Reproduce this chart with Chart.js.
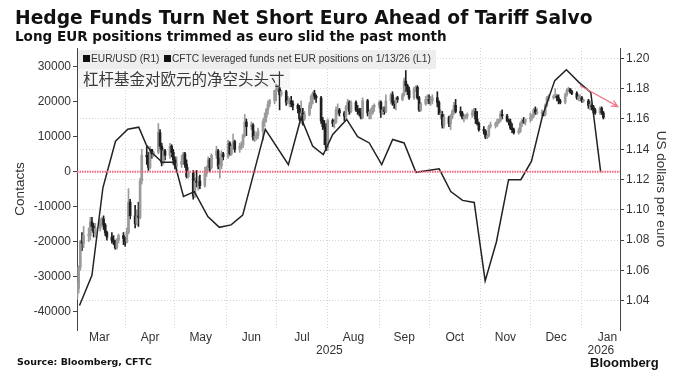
<!DOCTYPE html>
<html>
<head>
<meta charset="utf-8">
<script src="https://cdn.jsdelivr.net/npm/chart.js@4.4.1/dist/chart.umd.min.js"></script>
<style>
  html, body { margin: 0; padding: 0; background: #fff; }
  #wrap { width: 692px; height: 384px; }
</style>
</head>
<body>
<div id="wrap"><canvas id="chart" width="692" height="384"></canvas></div>
<script>
// --- data ---------------------------------------------------------------
// EUR/USD daily candles, trading days from Mon 3 Mar 2025 (open = previous close)
const fxFirstOpen = 1.042;
const fxClose = [
  1.048, 1.062, 1.079, 1.078, 1.083,  1.083, 1.092, 1.089, 1.085, 1.088,
  1.092, 1.094, 1.090, 1.085, 1.082,  1.080, 1.079, 1.075, 1.080, 1.083,
  1.081, 1.079, 1.085, 1.105, 1.096,  1.091, 1.096, 1.095, 1.119, 1.136,
  1.135, 1.128, 1.140, 1.137, 1.138,  1.151, 1.142, 1.131, 1.139, 1.136,
  1.142, 1.138, 1.133, 1.129, 1.130,  1.132, 1.137, 1.130, 1.122, 1.125,
  1.109, 1.119, 1.118, 1.119, 1.116,  1.124, 1.128, 1.133, 1.128, 1.136,
  1.139, 1.129, 1.129, 1.137, 1.135,  1.144, 1.137, 1.142, 1.145, 1.140,
  1.142, 1.143, 1.149, 1.158, 1.155,  1.156, 1.148, 1.148, 1.149, 1.152,
  1.158, 1.161, 1.166, 1.170, 1.172,  1.179, 1.180, 1.180, 1.176, 1.178,
  1.171, 1.172, 1.172, 1.170, 1.169,  1.167, 1.160, 1.164, 1.160, 1.163,
  1.169, 1.175, 1.177, 1.175, 1.174,  1.159, 1.155, 1.154, 1.141, 1.159,
  1.157, 1.158, 1.166, 1.166, 1.164,  1.162, 1.168, 1.171, 1.165, 1.171,
  1.166, 1.165, 1.164, 1.161, 1.172,  1.164, 1.164, 1.164, 1.168, 1.169,
  1.171, 1.164, 1.166, 1.165, 1.172,  1.176, 1.171, 1.170, 1.174, 1.173,
  1.176, 1.185, 1.182, 1.179, 1.174,  1.180, 1.181, 1.174, 1.166, 1.170,
  1.173, 1.173, 1.172, 1.172, 1.174,  1.171, 1.163, 1.163, 1.156, 1.161,
  1.157, 1.161, 1.165, 1.169, 1.165,  1.164, 1.161, 1.161, 1.162, 1.163,
  1.164, 1.165, 1.160, 1.157, 1.153,  1.152, 1.148, 1.149, 1.155, 1.156,
  1.156, 1.158, 1.159, 1.163, 1.162,  1.159, 1.158, 1.154, 1.153, 1.151,
  1.152, 1.157, 1.159, 1.158, 1.160,  1.161, 1.162, 1.166, 1.164, 1.164,
  1.164, 1.163, 1.169, 1.174, 1.174,  1.175, 1.175, 1.174, 1.172, 1.171,
  1.176, 1.179, 1.180, 1.178, 1.177,  1.174, 1.174, 1.174, 1.172, 1.172,
  1.169, 1.169, 1.168, 1.166, 1.164,  1.167, 1.164, 1.161
];
const fxHigh = [
  1.052, 1.063, 1.080, 1.085, 1.089,  1.088, 1.095, 1.095, 1.091, 1.091,
  1.094, 1.095, 1.096, 1.091, 1.086,  1.085, 1.083, 1.080, 1.081, 1.084,
  1.085, 1.082, 1.088, 1.114, 1.107,  1.103, 1.100, 1.105, 1.121, 1.140,
  1.142, 1.138, 1.142, 1.139, 1.139,  1.157, 1.153, 1.144, 1.141, 1.140,
  1.144, 1.143, 1.140, 1.135, 1.135,  1.136, 1.138, 1.138, 1.133, 1.128,
  1.126, 1.121, 1.126, 1.122, 1.123,  1.128, 1.129, 1.135, 1.134, 1.137,
  1.142, 1.140, 1.134, 1.139, 1.138,  1.146, 1.145, 1.143, 1.150, 1.146,
  1.144, 1.145, 1.150, 1.163, 1.160,  1.158, 1.157, 1.152, 1.151, 1.154,
  1.160, 1.164, 1.167, 1.172, 1.173,  1.179, 1.183, 1.182, 1.181, 1.179,
  1.179, 1.175, 1.174, 1.175, 1.172,  1.170, 1.169, 1.172, 1.167, 1.165,
  1.171, 1.176, 1.178, 1.179, 1.176,  1.175, 1.161, 1.159, 1.157, 1.160,
  1.160, 1.160, 1.168, 1.170, 1.167,  1.165, 1.169, 1.173, 1.172, 1.172,
  1.172, 1.169, 1.167, 1.167, 1.174,  1.173, 1.166, 1.167, 1.169, 1.170,
  1.172, 1.172, 1.168, 1.168, 1.176,  1.177, 1.178, 1.172, 1.174, 1.175,
  1.177, 1.187, 1.192, 1.183, 1.181,  1.181, 1.182, 1.182, 1.175, 1.171,
  1.175, 1.176, 1.176, 1.175, 1.176,  1.178, 1.172, 1.166, 1.165, 1.163,
  1.162, 1.163, 1.166, 1.171, 1.173,  1.168, 1.165, 1.163, 1.163, 1.164,
  1.166, 1.167, 1.167, 1.165, 1.158,  1.155, 1.153, 1.150, 1.156, 1.158,
  1.158, 1.160, 1.160, 1.165, 1.166,  1.163, 1.160, 1.160, 1.157, 1.154,
  1.154, 1.158, 1.160, 1.161, 1.160,  1.164, 1.163, 1.167, 1.168, 1.167,
  1.166, 1.165, 1.170, 1.175, 1.176,  1.176, 1.180, 1.176, 1.176, 1.173,
  1.177, 1.180, 1.181, 1.180, 1.179,  1.178, 1.176, 1.176, 1.175, 1.173,
  1.173, 1.172, 1.170, 1.169, 1.167,  1.168, 1.168, 1.165
];
const fxLow = [
  1.041, 1.045, 1.060, 1.073, 1.075,  1.079, 1.080, 1.086, 1.082, 1.082,
  1.086, 1.089, 1.087, 1.083, 1.080,  1.078, 1.077, 1.074, 1.074, 1.078,
  1.077, 1.076, 1.078, 1.084, 1.094,  1.088, 1.090, 1.089, 1.094, 1.117,
  1.130, 1.126, 1.127, 1.134, 1.135,  1.137, 1.140, 1.129, 1.130, 1.133,
  1.134, 1.135, 1.130, 1.127, 1.126,  1.128, 1.130, 1.128, 1.121, 1.121,
  1.107, 1.108, 1.115, 1.113, 1.114,  1.115, 1.122, 1.126, 1.125, 1.127,
  1.134, 1.127, 1.121, 1.127, 1.133,  1.134, 1.136, 1.136, 1.140, 1.138,
  1.138, 1.140, 1.141, 1.148, 1.149,  1.153, 1.146, 1.145, 1.146, 1.147,
  1.146, 1.155, 1.158, 1.163, 1.168,  1.170, 1.172, 1.178, 1.166, 1.175,
  1.169, 1.170, 1.168, 1.168, 1.166,  1.164, 1.159, 1.157, 1.156, 1.159,
  1.162, 1.167, 1.170, 1.173, 1.171,  1.157, 1.153, 1.143, 1.139, 1.139,
  1.155, 1.154, 1.157, 1.163, 1.162,  1.159, 1.160, 1.166, 1.163, 1.164,
  1.165, 1.163, 1.162, 1.160, 1.160,  1.162, 1.160, 1.160, 1.163, 1.165,
  1.167, 1.161, 1.163, 1.163, 1.164,  1.170, 1.169, 1.167, 1.166, 1.171,
  1.172, 1.175, 1.178, 1.176, 1.173,  1.173, 1.178, 1.173, 1.165, 1.165,
  1.169, 1.170, 1.170, 1.169, 1.170,  1.168, 1.163, 1.160, 1.154, 1.154,
  1.155, 1.153, 1.160, 1.163, 1.164,  1.162, 1.160, 1.158, 1.160, 1.160,
  1.161, 1.162, 1.157, 1.156, 1.152,  1.150, 1.147, 1.147, 1.148, 1.154,
  1.154, 1.155, 1.157, 1.158, 1.160,  1.158, 1.156, 1.153, 1.151, 1.150,
  1.150, 1.151, 1.155, 1.157, 1.156,  1.158, 1.159, 1.161, 1.163, 1.163,
  1.162, 1.162, 1.162, 1.168, 1.172,  1.173, 1.174, 1.172, 1.170, 1.170,
  1.170, 1.175, 1.178, 1.177, 1.176,  1.173, 1.172, 1.172, 1.171, 1.171,
  1.167, 1.166, 1.166, 1.164, 1.163,  1.163, 1.163, 1.160
];

// CFTC leveraged funds net EUR positions (day = days since 1 Mar 2025)
const cftcDay = [3.5, 11, 17.6, 25.2, 32.6, 39.2, 43.6, 47.2, 53.3, 60.7, 66.1, 72.7,
  80.8, 87.7, 94.8, 101.8, 115.4, 129.3, 136.9, 143.9, 150.3, 156, 164.4, 171, 178,
  185.5, 192.1, 199, 206.1, 220.1, 227.1, 234.2, 241.2, 247.8, 254.6, 261.9, 269.3,
  275.7, 282.3, 289.7, 296.7, 304.3, 311.4, 317.4];
const cftcNet = [-38200, -29600, -4600, 8700, 12100, 12700, 7800, 5400, 2700, 2700, -7100, -5700,
  -12800, -15900, -15200, -12400, 12100, 2000, 15400, 7300, 4900, 10600, 14900, 10000, 8200,
  2000, 9200, 8200, -200, 800, -5700, -8200, -8800, -31200, -20000, -2300, -2300,
  3000, 15900, 26000, 29100, 25500, 22600, -200];

// axes
const xFrom = 2, xTo = 329;
const monthStarts = [0, 31, 61, 92, 122, 153, 184, 214, 245, 275, 306, 337];
const monthNames = ['Mar', 'Apr', 'May', 'Jun', 'Jul', 'Aug', 'Sep', 'Oct', 'Nov', 'Dec', 'Jan'];
const yearNames = ['2025', '2026'];
const yearStarts = [xFrom, 306, xTo];
const leftTicks = [-40000, -30000, -20000, -10000, 0, 10000, 20000, 30000];
const rightTicks = [1.04, 1.06, 1.08, 1.10, 1.12, 1.14, 1.16, 1.18, 1.20];
const arrowFrom = [304.8, 1.1821];
const arrowTo = [327.6, 1.1683];

// --- build ---------------------------------------------------------------
const UP = '#9b9b9b', DOWN = '#1f1f1f';
const tradeDay = fxClose.map((_, i) => 2 + 7 * Math.floor(i / 5) + (i % 5));
const fxOpen = fxClose.map((_, i) => (i === 0 ? fxFirstOpen : fxClose[i - 1]));
const candleColor = c => (fxClose[c.dataIndex] >= fxOpen[c.dataIndex] ? UP : DOWN);

const bodies = fxClose.map((c, i) => ({ x: tradeDay[i], y: [fxOpen[i], c] }));
const wicks = fxClose.map((c, i) => ({ x: tradeDay[i], y: [fxLow[i], fxHigh[i]] }));
const cftc = cftcDay.map((d, i) => ({ x: d, y: cftcNet[i] }));
const monthMid = monthNames.map((_, i) => (monthStarts[i] + monthStarts[i + 1]) / 2);
const yearMid = yearNames.map((_, i) => (yearStarts[i] + yearStarts[i + 1]) / 2);

Chart.defaults.font.family = '"Liberation Sans", Arial, sans-serif';
Chart.defaults.color = '#333';

// draw text bold in DejaVu, sized so it spans the given width
function fitText(ctx, text, x, y, width, base) {
  ctx.font = 'bold ' + base + 'px "DejaVu Sans", sans-serif';
  const size = base * width / ctx.measureText(text).width;
  ctx.font = 'bold ' + size.toFixed(2) + 'px "DejaVu Sans", sans-serif';
  ctx.fillText(text, x, y);
}

const decor = {
  id: 'decor',
  beforeDatasetsDraw(chart) {
    const { ctx, chartArea: a } = chart;
    ctx.save();
    ctx.fillStyle = '#eeeeee';
    ctx.fillRect(a.left + 1, a.top + 2, 358, 19);
    ctx.fillStyle = '#f6f6f6';
    ctx.fillRect(a.left + 1, a.top + 21, 212, 20);
    ctx.restore();
  },
  afterDraw(chart) {
    const { ctx, chartArea: a, scales } = chart;
    ctx.save();
    // title + subtitle
    ctx.fillStyle = '#111';
    ctx.textBaseline = 'alphabetic';
    fitText(ctx, 'Hedge Funds Turn Net Short Euro Ahead of Tariff Salvo', 15, 24, 578, 19);
    fitText(ctx, 'Long EUR positions trimmed as euro slid the past month', 15, 41, 432, 13);

    // legend inside the plot
    ctx.font = '10.2px "Liberation Sans", Arial, sans-serif';
    ctx.textBaseline = 'middle';
    const ly = a.top + 11;
    ctx.fillStyle = '#111';
    ctx.fillRect(a.left + 6, ly - 4, 7, 7);
    ctx.fillRect(a.left + 87, ly - 4, 7, 7);
    ctx.fillStyle = '#333';
    ctx.fillText('EUR/USD (R1)', a.left + 14, ly);
    ctx.fillText('CFTC leveraged funds net EUR positions on 1/13/26 (L1)', a.left + 95, ly);

    // chinese note
    ctx.font = '15.5px "Noto Sans CJK SC", sans-serif';
    ctx.fillStyle = '#3a3a3a';
    ctx.fillText('杠杆基金对欧元的净空头头寸', a.left + 6, a.top + 31);

    // red arrow
    const x1 = scales.x.getPixelForValue(arrowFrom[0]), y1 = scales.yR.getPixelForValue(arrowFrom[1]);
    const x2 = scales.x.getPixelForValue(arrowTo[0]), y2 = scales.yR.getPixelForValue(arrowTo[1]);
    const ang = Math.atan2(y2 - y1, x2 - x1);
    ctx.strokeStyle = '#f2788a';
    ctx.lineWidth = 1.3;
    ctx.beginPath();
    ctx.moveTo(x1, y1);
    ctx.lineTo(x2, y2);
    ctx.moveTo(x2 - 7 * Math.cos(ang - 0.45), y2 - 7 * Math.sin(ang - 0.45));
    ctx.lineTo(x2, y2);
    ctx.lineTo(x2 - 7 * Math.cos(ang + 0.45), y2 - 7 * Math.sin(ang + 0.45));
    ctx.stroke();

    // footer
    ctx.textBaseline = 'middle';
    ctx.fillStyle = '#111';
    fitText(ctx, 'Source: Bloomberg, CFTC', 17, 363, 135, 10);
    ctx.font = 'bold 13px "Liberation Sans", Arial, sans-serif';
    ctx.fillText('Bloomberg', 590, 363);
    ctx.restore();
  }
};

new Chart(document.getElementById('chart'), {
  type: 'bar',
  data: {
    datasets: [
      {
        type: 'line', label: 'zero', data: [{ x: xFrom, y: 0 }, { x: xTo, y: 0 }],
        yAxisID: 'yL', borderColor: '#f2667e', borderWidth: 2, borderDash: [1.5, 1],
        pointRadius: 0, order: 0
      },
      {
        type: 'line', label: 'CFTC leveraged funds net EUR positions', data: cftc,
        yAxisID: 'yL', borderColor: '#222', borderWidth: 1.5, pointRadius: 0,
        tension: 0, order: 1
      },
      {
        label: 'EUR/USD wicks', data: wicks, yAxisID: 'yR', grouped: false,
        barThickness: 1, backgroundColor: candleColor, borderWidth: 0, order: 3
      },
      {
        label: 'EUR/USD', data: bodies, yAxisID: 'yR', grouped: false,
        barThickness: 2, minBarLength: 1, backgroundColor: candleColor, borderWidth: 0, order: 2
      }
    ]
  },
  options: {
    responsive: false,
    animation: false,
    layout: { padding: { top: 48, bottom: 27, left: 0, right: 0 } },
    plugins: { legend: { display: false }, tooltip: { enabled: false } },
    scales: {
      x: {
        type: 'linear', position: 'bottom', min: xFrom, max: xTo, offset: false,
        afterBuildTicks: s => { s.ticks = monthStarts.filter(v => v >= xFrom && v <= xTo).map(v => ({ value: v })); },
        ticks: { display: false },
        grid: { color: '#d4d4d4', drawTicks: false, offset: false },
        border: { display: false, dash: [1, 2] },
        afterFit: s => { s.height = 0; }
      },
      xm: {
        type: 'linear', position: 'bottom', min: xFrom, max: xTo, offset: false,
        afterBuildTicks: s => { s.ticks = monthMid.map(v => ({ value: v })); },
        ticks: { callback: (v, i) => monthNames[i], autoSkip: false, maxRotation: 0, padding: 1,
          font: { size: 12, lineHeight: 1.1 }, color: '#333' },
        grid: { display: false, drawTicks: false },
        border: { display: false },
        afterFit: s => { s.height = 14; }
      },
      xy: {
        type: 'linear', position: 'bottom', min: xFrom, max: xTo, offset: false,
        afterBuildTicks: s => { s.ticks = yearMid.map(v => ({ value: v })); },
        ticks: { callback: (v, i) => yearNames[i], autoSkip: false, maxRotation: 0, padding: 0,
          font: { size: 12, lineHeight: 1.1 }, color: '#333' },
        grid: { display: false, drawTicks: false },
        border: { display: false },
        afterFit: s => { s.height = 13; }
      },
      yL: {
        type: 'linear', position: 'left', min: -45200, max: 35300,
        afterBuildTicks: s => { s.ticks = leftTicks.map(v => ({ value: v })); },
        ticks: { callback: v => String(v), padding: 2, font: { size: 12 }, color: '#333' },
        grid: { drawOnChartArea: false, tickLength: 4, tickColor: '#444' },
        border: { color: '#444' },
        title: { display: true, text: 'Contacts', font: { size: 13.5 }, color: '#333', padding: { top: 12, bottom: 0 } },
        afterFit: s => { s.width = 77; }
      },
      yR: {
        type: 'linear', position: 'right', min: 1.0206, max: 1.2069,
        afterBuildTicks: s => { s.ticks = rightTicks.map(v => ({ value: v })); },
        ticks: { callback: v => v.toFixed(2), padding: 2, font: { size: 12 }, color: '#333' },
        grid: { color: '#d4d4d4', tickLength: 4, tickColor: '#444' },
        border: { color: '#444', dash: [1, 2] },
        title: { display: true, text: 'US dollars per euro', font: { size: 13.5 }, color: '#333', padding: { top: 23, bottom: 0 } },
        afterFit: s => { s.width = 72; }
      }
    }
  },
  plugins: [decor]
});
</script>
</body>
</html>
